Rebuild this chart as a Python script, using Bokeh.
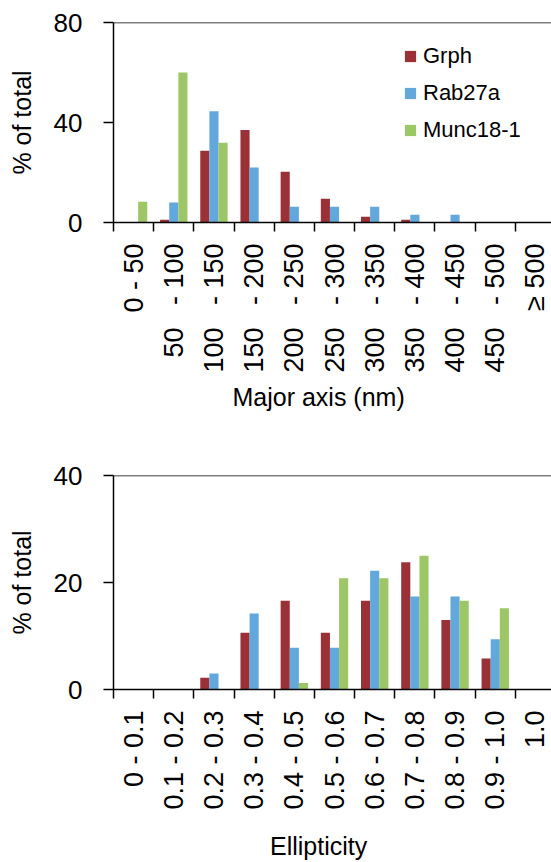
import numpy as np
from bokeh.plotting import figure
from bokeh.layouts import column
from bokeh.models import Range1d, FixedTicker, CustomJSTickFormatter, Span, Legend, LegendItem
from bokeh.embed import file_html
from bokeh.resources import INLINE

# ---- data ----
major_cats = ["0 - 50", "50 - 100", "100 - 150", "150 - 200", "200 - 250", "250 - 300",
              "300 - 350", "350 - 400", "400 - 450", "450 - 500", "\u2265 500"]
grph_major = [0, 1.1, 28.7, 37.0, 20.3, 9.5, 2.3, 1.1, 0, 0, 0]
rab_major = [0, 8.0, 44.5, 22.0, 6.3, 6.3, 6.3, 3.1, 3.1, 0, 0]
munc_major = [8.3, 60.0, 31.9, 0, 0, 0, 0, 0, 0, 0, 0]

ell_cats = ["0 - 0.1", "0.1 - 0.2", "0.2 - 0.3", "0.3 - 0.4", "0.4 - 0.5", "0.5 - 0.6",
            "0.6 - 0.7", "0.7 - 0.8", "0.8 - 0.9", "0.9 - 1.0", "1.0"]
grph_ell = [0, 0, 2.2, 10.6, 16.6, 10.6, 16.6, 23.8, 13.0, 5.8, 0]
rab_ell = [0, 0, 3.0, 14.2, 7.8, 7.8, 22.2, 17.4, 17.4, 9.4, 0]
munc_ell = [0, 0, 0, 0, 1.2, 20.8, 20.8, 25.0, 16.6, 15.2, 0]

series_names = ["Grph", "Rab27a", "Munc18-1"]
colors = ["#993136", "#62A8DC", "#9DC766"]

FONT = "Liberation Sans"
NB = "\u00a0"


def wide_gap(lbl):
    # the longer labels in the original show a wider gap before the dash
    a, sep, b = lbl.partition(" - ")
    if sep and len(lbl) > 6:
        return a + NB * 3 + "- " + b
    return lbl


def make(cats, series, ymax, yticks, xlabel, height, border_top, frame_h,
         title_standoff, label_fn, legend_loc=None):
    n = len(cats)
    p = figure(width=551, height=height,
               x_range=Range1d(0, 10.9), y_range=Range1d(0, ymax),
               output_backend="svg", toolbar_location=None,
               min_border_left=113, min_border_right=0,
               min_border_top=border_top,
               min_border_bottom=height - border_top - frame_h)
    p.outline_line_color = None
    p.grid.visible = False

    idx = np.arange(n) + 0.5
    w = 0.227
    offsets = [-w, 0, w]
    renderers = []
    for vals, off, col in zip(series, offsets, colors):
        r = p.vbar(x=idx + off, top=vals, width=w, fill_color=col, line_color=None)
        renderers.append(r)

    p.add_layout(Span(location=ymax, dimension="width", line_color="black", line_width=1.5))

    xa = p.xaxis[0]
    xa.ticker = FixedTicker(ticks=list(idx), minor_ticks=list(range(n + 1)))
    xa.formatter = CustomJSTickFormatter(args=dict(labels=[label_fn(c) for c in cats]),
                                         code="return labels[Math.floor(tick)];")
    xa.major_tick_line_color = None
    xa.major_tick_out = 9
    xa.major_tick_in = 0
    xa.minor_tick_out = 9
    xa.minor_tick_in = 0
    xa.minor_tick_line_width = 1.5
    xa.minor_tick_line_color = "black"
    xa.axis_line_width = 1.5
    xa.axis_line_color = "black"
    xa.major_label_orientation = np.pi / 2
    xa.major_label_standoff = 12
    xa.major_label_text_font = FONT
    xa.major_label_text_font_size = "27px"
    xa.major_label_text_color = "black"
    # trailing no-break spaces move the centred title a little to the left, as in the original
    xa.axis_label = xlabel + NB * 4
    xa.axis_label_text_font = FONT
    xa.axis_label_text_font_size = "25px"
    xa.axis_label_text_font_style = "normal"
    xa.axis_label_text_color = "black"
    xa.axis_label_standoff = title_standoff

    ya = p.yaxis[0]
    ya.ticker = FixedTicker(ticks=yticks, minor_ticks=[])
    ya.major_tick_out = 10
    ya.major_tick_in = 0
    ya.major_tick_line_width = 1.5
    ya.axis_line_width = 1.5
    ya.major_label_standoff = 21
    ya.major_label_text_font = FONT
    ya.major_label_text_font_size = "26px"
    ya.major_label_text_color = "black"
    ya.axis_label = "% of total"
    ya.axis_label_text_font = FONT
    ya.axis_label_text_font_size = "25px"
    ya.axis_label_text_font_style = "normal"
    ya.axis_label_text_color = "black"
    ya.axis_label_standoff = 15

    if legend_loc is not None:
        items = [LegendItem(label=nm, renderers=[r]) for nm, r in zip(series_names, renderers)]
        lg = Legend(items=items, location=legend_loc)
        lg.border_line_color = None
        lg.background_fill_alpha = 0
        lg.padding = 0
        lg.margin = 0
        lg.glyph_width = 14
        lg.glyph_height = 14
        lg.label_standoff = 6
        lg.spacing = 11
        lg.label_text_font = FONT
        lg.label_text_font_size = "22px"
        lg.label_text_color = "black"
        p.add_layout(lg)
    return p


p1 = make(major_cats, [grph_major, rab_major, munc_major], 80, [0, 40, 80],
          "Major axis (nm)", 440, 22, 200, 7, wide_gap, legend_loc=(290, 79))
p2 = make(ell_cats, [grph_ell, rab_ell, munc_ell], 40, [0, 20, 40],
          "Ellipticity", 422, 35, 215, 19, lambda c: c)

layout = column(p1, p2)
open("out.html", "w").write(file_html(layout, INLINE))
